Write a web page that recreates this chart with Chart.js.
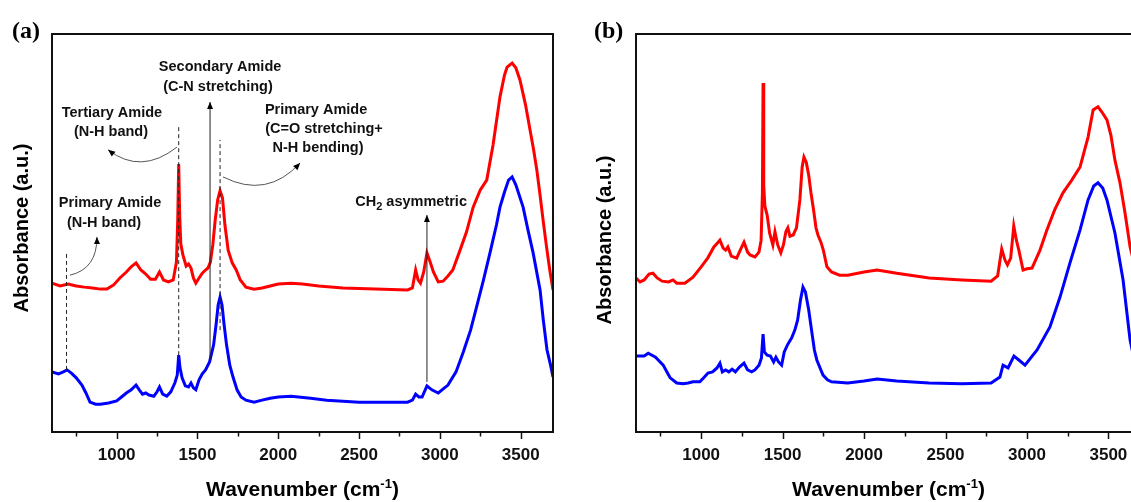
<!DOCTYPE html>
<html>
<head>
<meta charset="utf-8">
<script src="https://cdn.jsdelivr.net/npm/chart.js@4.4.1/dist/chart.umd.min.js"></script>
<style>
    html, body { margin: 0; padding: 0; background: #fff; overflow: hidden; }
    body { width: 1131px; height: 502px; position: relative; }
    .painel { position: absolute; top: 0; }
    #painelA { left: 0; }
    #painelB { left: 584px; }
</style>
</head>
<body>
<div class="painel" id="painelA"><canvas id="graficoA" width="575" height="502"></canvas></div>
<div class="painel" id="painelB"><canvas id="graficoB" width="580" height="502"></canvas></div>
<script>
// --- Espectros FTIR (absorbância em unidades arbitrárias) ---

// (a) curva vermelha
const aVermelhoX = [600, 650, 700, 750, 800, 850, 900, 940, 980, 1020, 1060, 1090, 1120, 1150, 1180, 1210, 1240, 1265, 1290, 1320,
    1350, 1370, 1378, 1384, 1390, 1397, 1410, 1430, 1445, 1460, 1475, 1490, 1510, 1530, 1550, 1565, 1580, 1595, 1610, 1625,
    1640, 1655, 1670, 1690, 1715, 1740, 1765, 1800, 1850, 1900, 1950, 2000, 2080, 2150, 2250, 2400, 2600, 2800, 2830, 2850,
    2865, 2880, 2900, 2920, 2940, 2960, 2990, 3020, 3050, 3080, 3125, 3165, 3206, 3250, 3290, 3329, 3372, 3400, 3416, 3447,
    3470, 3496, 3530, 3558, 3580, 3600, 3620, 3640, 3660, 3680, 3700];
const aVermelhoY = [37.4, 36.7, 37.2, 36.7, 36.4, 36.2, 35.9, 35.9, 36.9, 38.7, 40.2, 41.5, 42.5, 40.7, 39.7, 38.4, 38.4, 40.2, 38.2, 37.7,
    38.2, 42.7, 53.3, 67.3, 54.5, 47.2, 44.5, 41.7, 42.2, 41.2, 38.7, 37.4, 38.7, 39.9, 40.7, 41.2, 42.7, 47.0, 53.3, 58.3,
    60.6, 58.8, 52.0, 45.7, 42.5, 40.7, 38.2, 36.4, 35.9, 36.2, 36.7, 37.2, 37.4, 37.2, 36.7, 36.2, 35.9, 35.7, 36.2, 40.7,
    38.2, 37.4, 40.2, 45.0, 42.7, 40.2, 37.7, 37.9, 39.2, 40.7, 45.7, 50.3, 56.5, 60.8, 63.3, 72.1, 84.2, 89.7, 91.7, 92.7,
    91.5, 88.4, 82.2, 75.9, 70.9, 65.8, 59.5, 52.8, 46.5, 40.7, 35.7];

// (a) curva azul
const aAzulX = [600, 640, 670, 693, 720, 750, 785, 810, 835, 870, 900, 950, 1000, 1030, 1060, 1090, 1120, 1140, 1160, 1180,
    1200, 1230, 1250, 1265, 1285, 1310, 1335, 1360, 1375, 1384, 1392, 1405, 1425, 1445, 1460, 1475, 1490, 1510, 1530, 1550,
    1575, 1600, 1615, 1628, 1640, 1652, 1665, 1680, 1700, 1720, 1745, 1770, 1800, 1850, 1900, 1950, 2000, 2080, 2200, 2300,
    2500, 2700, 2800, 2830, 2850, 2870, 2890, 2920, 2950, 2990, 3050, 3100, 3145, 3190, 3230, 3270, 3310, 3350, 3372, 3400,
    3425, 3447, 3470, 3515, 3545, 3577, 3620, 3640, 3663, 3685, 3700];
const aAzulY = [15.1, 14.6, 15.1, 15.6, 14.8, 13.6, 11.8, 9.8, 7.5, 7.0, 7.0, 7.3, 7.8, 8.8, 9.8, 10.6, 11.8, 10.6, 9.5, 9.8,
    9.3, 9.0, 10.1, 11.3, 9.5, 9.0, 10.1, 12.3, 14.3, 19.3, 16.1, 13.6, 11.6, 11.3, 12.3, 11.1, 10.6, 13.1, 14.6, 15.6,
    17.6, 21.9, 26.9, 31.9, 33.9, 31.9, 26.9, 21.9, 16.8, 13.8, 10.6, 8.8, 8.0, 7.5, 8.0, 8.5, 8.8, 9.0, 8.5, 8.0,
    7.5, 7.5, 7.5, 8.0, 9.5, 8.8, 8.8, 11.6, 10.6, 9.8, 11.8, 15.1, 20.1, 25.6, 31.9, 38.2, 45.0, 52.0, 56.5, 60.3,
    63.3, 64.1, 62.1, 56.5, 50.8, 45.0, 35.7, 28.1, 20.6, 16.8, 13.8];

// (b) curva vermelha
const bVermelhoX = [600, 625, 650, 680, 704, 730, 760, 800, 827, 850, 900, 950, 1000, 1040, 1078, 1100, 1115, 1135, 1150, 1164,
    1185, 1218, 1240, 1263, 1285, 1300, 1330, 1355, 1368, 1376, 1380, 1384, 1391, 1405, 1420, 1440, 1453, 1470, 1489, 1505,
    1520, 1532, 1545, 1565, 1585, 1606, 1620, 1631, 1645, 1660, 1674, 1690, 1705, 1717, 1735, 1750, 1772, 1800, 1850, 1900,
    2000, 2080, 2200, 2400, 2600, 2780, 2820, 2845, 2865, 2880, 2900, 2919, 2935, 2950, 2976, 3000, 3031, 3080, 3123, 3170,
    3221, 3275, 3326, 3375, 3406, 3436, 3460, 3491, 3515, 3540, 3571, 3602, 3633, 3665, 3700];
const bVermelhoY = [38.7, 37.7, 38.2, 39.7, 39.9, 38.7, 37.9, 37.7, 38.2, 37.4, 37.4, 38.9, 41.5, 43.7, 46.5, 47.5, 48.2, 46.2, 45.7, 46.5,
    44.2, 43.7, 45.7, 47.7, 45.2, 44.5, 44.0, 45.2, 48.2, 60.0, 87.7, 62.0, 56.8, 54.5, 50.0, 47.0, 50.3, 47.0, 45.0, 47.0,
    50.3, 51.3, 49.2, 49.5, 51.3, 58.3, 66.6, 69.1, 67.8, 64.6, 60.1, 55.8, 51.3, 49.5, 47.7, 45.7, 41.5, 40.2, 39.4, 39.4,
    40.2, 40.7, 39.9, 38.7, 38.2, 37.9, 39.2, 46.0, 43.2, 42.0, 43.7, 51.8, 48.2, 45.7, 40.7, 41.0, 41.2, 45.7, 50.8, 55.8,
    60.1, 63.3, 66.6, 74.1, 80.9, 81.7, 80.4, 78.4, 74.6, 68.3, 62.6, 55.0, 46.5, 41.2, 35.7];

// (b) curva azul
const bAzulX = [600, 650, 675, 720, 767, 790, 810, 850, 890, 920, 950, 992, 1020, 1042, 1070, 1097, 1115, 1130, 1150, 1170,
    1190, 1210, 1235, 1263, 1285, 1310, 1330, 1355, 1370, 1380, 1388, 1405, 1425, 1445, 1459, 1475, 1494, 1510, 1530, 1555,
    1575, 1592, 1610, 1625, 1640, 1660, 1680, 1695, 1710, 1748, 1775, 1800, 1900, 2000, 2080, 2200, 2400, 2600, 2780, 2834,
    2853, 2884, 2920, 2950, 2988, 3062, 3141, 3203, 3264, 3326, 3375, 3410, 3436, 3465, 3491, 3540, 3590, 3633, 3665, 3700];
const bAzulY = [19.1, 19.1, 19.8, 18.8, 16.8, 15.1, 13.6, 12.3, 12.1, 12.3, 12.6, 12.6, 13.8, 14.8, 15.1, 16.1, 17.3, 15.1, 15.6, 15.1,
    15.8, 15.1, 16.3, 17.3, 15.6, 15.1, 15.6, 16.8, 18.6, 24.6, 20.1, 19.3, 19.1, 17.6, 18.8, 17.6, 16.8, 20.1, 21.9, 23.6,
    25.6, 28.1, 33.2, 36.4, 35.2, 30.7, 24.9, 20.6, 18.1, 14.3, 13.1, 12.6, 12.3, 12.8, 13.3, 12.8, 12.3, 12.1, 12.3, 13.8,
    16.8, 16.1, 19.1, 18.1, 16.8, 20.6, 26.4, 33.9, 42.5, 50.8, 58.3, 61.8, 62.6, 61.3, 58.3, 50.0, 38.2, 23.1, 16.8, 13.1];

// eixo x
const minWavenumber = 600;
const maxWavenumber = 3700;
const ticksEixoX = [750, 1000, 1250, 1500, 1750, 2000, 2250, 2500, 2750, 3000, 3250, 3500];

// --- Anotações do painel (a), em coordenadas de dados ---
const linhasTracejadas = [
    { w: 690, de: 15.6, ate: 45.0 },
    { w: 1384, de: 19.3, ate: 76.6 },
    { w: 1640, de: 25.6, ate: 73.4 }
];
const setasRetas = [
    { w: 1578, de: 18.1, ate: 82.9 },
    { w: 2920, de: 12.6, ate: 54.5 }
];
const setasCurvas = [
    { inicio: [1374, 71.6], controle: [1150, 64.5], fim: [947, 70.9] },
    { inicio: [1658, 64.1], controle: [1930, 58.5], fim: [2135, 67.6] },
    { inicio: [711, 39.4], controle: [880, 41.0], fim: [878, 49.0] }
];
const rotulos = [
    ['Secondary Amide', 1640, 91.7],
    ['(C-N stretching)', 1627, 86.7],
    ['Tertiary Amide', 971, 80.2],
    ['(N-H band)', 965, 75.4],
    ['Primary Amide', 2234, 80.9],
    ['(C=O stretching+', 2283, 76.1],
    ['N-H bending)', 2246, 71.4],
    ['Primary Amide', 959, 57.5],
    ['(N-H band)', 922, 52.5]
];

const fonteSans = '"Liberation Sans", Arial, sans-serif';
const fonteSerif = '"Liberation Serif", "Times New Roman", serif';

const paraPontos = (xs, ys) => xs.map((w, i) => ({ x: w, y: ys[i] }));

// desenha texto com sobrescrito / subscrito
const textoComIndice = (ctx, partes, cx, cy) => {
    let largura = 0;
    partes.forEach(p => { ctx.font = p.fonte; largura += ctx.measureText(p.t).width; });
    let x = cx - largura / 2;
    ctx.textAlign = 'left';
    ctx.textBaseline = 'alphabetic';
    partes.forEach(p => {
        ctx.font = p.fonte;
        ctx.fillText(p.t, x, cy + (p.dy || 0));
        x += ctx.measureText(p.t).width;
    });
};

const pontaDeSeta = (ctx, x, y, ang) => {
    const comp = 7, meia = 3;
    ctx.save();
    ctx.translate(x, y);
    ctx.rotate(ang);
    ctx.beginPath();
    ctx.moveTo(0, 0);
    ctx.lineTo(-comp, -meia);
    ctx.lineTo(-comp, meia);
    ctx.closePath();
    ctx.fill();
    ctx.restore();
};

// moldura, marcas do eixo x, letra do painel e títulos dos eixos
const molduraPlugin = {
    id: 'moldura',
    afterDraw(chart, args, opts) {
        const { ctx, chartArea: { left, right, top, bottom }, scales: { x } } = chart;
        ctx.save();
        ctx.strokeStyle = '#111';
        ctx.lineWidth = 2;
        ctx.strokeRect(left, top, right - left, bottom - top);

        // marcas maiores a cada 500, menores a cada 250
        ctx.lineWidth = 1.5;
        ticksEixoX.forEach(v => {
            const xp = Math.round(x.getPixelForValue(v)) + 0.5;
            ctx.beginPath();
            ctx.moveTo(xp, bottom);
            ctx.lineTo(xp, bottom + (v % 500 === 0 ? 7 : 4.5));
            ctx.stroke();
        });

        ctx.fillStyle = '#000';
        ctx.font = 'bold 24px ' + fonteSerif;
        ctx.textAlign = 'left';
        ctx.textBaseline = 'alphabetic';
        ctx.fillText(opts.letra, opts.letraX, 38);

        textoComIndice(ctx, [
            { t: 'Wavenumber (cm', fonte: 'bold 21px ' + fonteSans },
            { t: '-1', fonte: 'bold 13px ' + fonteSans, dy: -8 },
            { t: ')', fonte: 'bold 21px ' + fonteSans }
        ], (left + right) / 2, 496);

        ctx.translate(opts.tituloYX, opts.tituloYY);
        ctx.rotate(-Math.PI / 2);
        ctx.font = 'bold 20px ' + fonteSans;
        ctx.textAlign = 'center';
        ctx.textBaseline = 'middle';
        ctx.fillText('Absorbance (a.u.)', 0, 0);
        ctx.restore();
    }
};

// linhas de referência, setas e rótulos do painel (a)
const anotacoesPlugin = {
    id: 'anotacoes',
    afterDatasetsDraw(chart) {
        const { ctx, scales: { x, y } } = chart;
        const px = w => x.getPixelForValue(w);
        const py = v => y.getPixelForValue(v);
        ctx.save();

        ctx.strokeStyle = '#222';
        ctx.lineWidth = 1;
        ctx.setLineDash([4, 3]);
        linhasTracejadas.forEach(l => {
            ctx.beginPath();
            ctx.moveTo(px(l.w), py(l.de));
            ctx.lineTo(px(l.w), py(l.ate));
            ctx.stroke();
        });
        ctx.setLineDash([]);

        ctx.fillStyle = '#000';
        setasRetas.forEach(s => {
            ctx.beginPath();
            ctx.moveTo(px(s.w), py(s.de));
            ctx.lineTo(px(s.w), py(s.ate));
            ctx.stroke();
            pontaDeSeta(ctx, px(s.w), py(s.ate), -Math.PI / 2);
        });

        ctx.strokeStyle = '#555';
        setasCurvas.forEach(c => {
            const [x0, y0] = [px(c.inicio[0]), py(c.inicio[1])];
            const [x1, y1] = [px(c.controle[0]), py(c.controle[1])];
            const [x2, y2] = [px(c.fim[0]), py(c.fim[1])];
            ctx.beginPath();
            ctx.moveTo(x0, y0);
            ctx.quadraticCurveTo(x1, y1, x2, y2);
            ctx.stroke();
            pontaDeSeta(ctx, x2, y2, Math.atan2(y2 - y1, x2 - x1));
        });

        ctx.fillStyle = '#111';
        ctx.font = 'bold 14.5px ' + fonteSans;
        ctx.textAlign = 'center';
        ctx.textBaseline = 'middle';
        rotulos.forEach(([t, w, v]) => ctx.fillText(t, px(w), py(v)));

        textoComIndice(ctx, [
            { t: 'CH', fonte: 'bold 14.5px ' + fonteSans },
            { t: '2', fonte: 'bold 11px ' + fonteSans, dy: 4 },
            { t: ' asymmetric', fonte: 'bold 14.5px ' + fonteSans }
        ], px(2822), py(58) + 5);

        ctx.restore();
    }
};

const opcoesGrafico = (letra, letraX, tituloYX, tituloYY, paddingDireita) => ({
    responsive: false,
    animation: false,
    layout: { padding: { left: 52, right: paddingDireita, top: 34, bottom: 0 } },
    plugins: {
        legend: { display: false },
        tooltip: { enabled: false },
        moldura: { letra, letraX, tituloYX, tituloYY }
    },
    scales: {
        x: {
            type: 'linear',
            min: minWavenumber,
            max: maxWavenumber,
            afterBuildTicks: scale => { scale.ticks = ticksEixoX.map(v => ({ value: v })); },
            afterFit: scale => { scale.height = 70; },
            ticks: {
                autoSkip: false,
                maxRotation: 0,
                padding: 13,
                color: '#111',
                font: { family: fonteSans, size: 17, weight: 'bold' },
                callback: v => (v % 500 === 0 ? v : '')
            },
            grid: { display: false, drawOnChartArea: false, drawTicks: false },
            border: { display: false }
        },
        y: { display: false, min: 0, max: 100 }
    }
});

const datasets = (vermelho, azul) => [
    { data: vermelho, borderColor: '#ff0000', borderWidth: 3, pointRadius: 0, tension: 0 },
    { data: azul, borderColor: '#0000ff', borderWidth: 3, pointRadius: 0, tension: 0 }
];

document.addEventListener('DOMContentLoaded', () => {
    new Chart(document.getElementById('graficoA'), {
        type: 'line',
        data: { datasets: datasets(paraPontos(aVermelhoX, aVermelhoY), paraPontos(aAzulX, aAzulY)) },
        options: opcoesGrafico('(a)', 12, 22, 228, 22),
        plugins: [molduraPlugin, anotacoesPlugin]
    });

    new Chart(document.getElementById('graficoB'), {
        type: 'line',
        data: { datasets: datasets(paraPontos(bVermelhoX, bVermelhoY), paraPontos(bAzulX, bAzulY)) },
        options: opcoesGrafico('(b)', 10, 21, 240, 23),
        plugins: [molduraPlugin]
    });
});
</script>
</body>
</html>
